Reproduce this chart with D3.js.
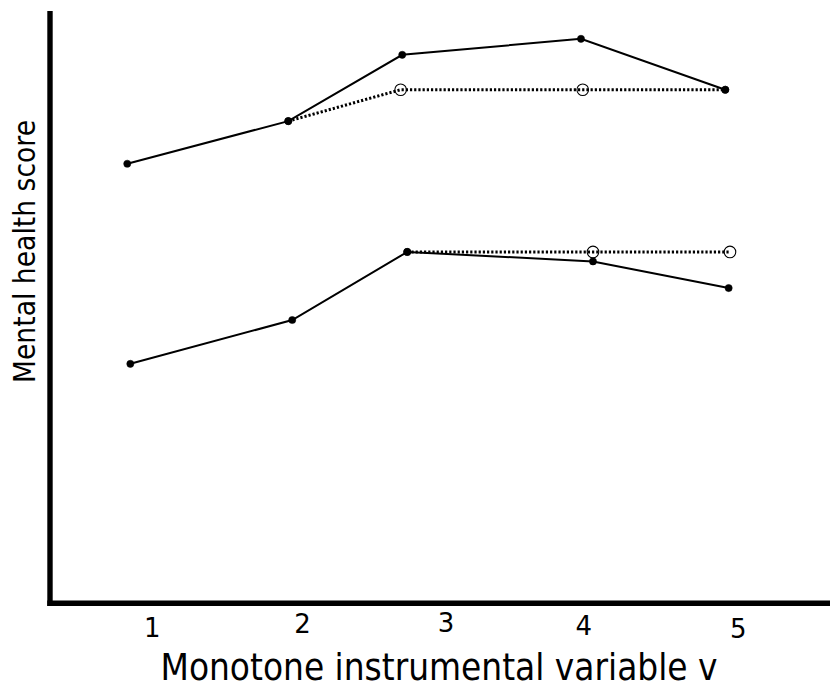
<!DOCTYPE html>
<html>
<head>
<meta charset="utf-8">
<script src="https://cdn.jsdelivr.net/npm/d3@7"></script>
<style>
  html, body { margin: 0; padding: 0; background: #fff; }
  svg { display: block; }
  text { font-family: "DejaVu Sans Condensed", "DejaVu Sans", sans-serif; fill: #000; }
</style>
</head>
<body>
<svg id="chart" width="830" height="688"></svg>
<script>
// ---------- data ----------
const tickValues = [1.005, 2.03, 3.01, 3.95, 5.005];
const tickLabels = ["1", "2", "3", "4", "5"];

// upper group, observed (solid)
const upperSolidX = [0.838, 1.937, 2.715, 3.935, 4.920];
const upperSolidY = [74.2, 81.4, 92.6, 95.3, 86.7];
// upper group, monotone fit (dotted)
const upperDotX = [1.937, 2.704, 3.947, 4.920];
const upperDotY = [81.4, 86.7, 86.7, 86.7];
const upperDotOpen = [false, true, true, false];

// lower group, observed (solid)
const lowerSolidX = [0.859, 1.964, 2.749, 4.017, 4.943];
const lowerSolidY = [40.4, 47.8, 59.3, 57.7, 53.2];
// lower group, monotone fit (dotted)
const lowerDotX = [2.749, 4.017, 4.952];
const lowerDotY = [59.3, 59.3, 59.3];
const lowerDotOpen = [false, true, true];

const xTitle = "Monotone instrumental variable v";
const yTitle = "Mental health score";

// ---------- layout ----------
const svg = d3.select("#chart");
const x = d3.scaleLinear().domain([1, 5]).range([151, 737]);
const y = d3.scaleLinear().domain([0, 100]).range([603, 11]);
const labelBaselines = [637, 633, 632, 635, 638];

// axes frame
svg.append("line").attr("x1", 50).attr("x2", 50).attr("y1", 11).attr("y2", 606)
  .attr("stroke", "#000").attr("stroke-width", 5.4);
svg.append("line").attr("x1", 47.3).attr("x2", 830).attr("y1", 603.3).attr("y2", 603.3)
  .attr("stroke", "#000").attr("stroke-width", 5.4);

// tick labels via axis
const xAxis = d3.axisBottom(x).tickValues(tickValues).tickSize(0)
  .tickFormat((d, i) => tickLabels[i]);
const gx = svg.append("g").call(xAxis);
gx.select(".domain").remove();
gx.attr("font-family", "DejaVu Sans, sans-serif").attr("font-size", 26);
gx.selectAll(".tick text")
  .attr("font-size", 26)
  .style("font-size", "26px")
  .style("font-family", "'DejaVu Sans', sans-serif")
  .attr("dy", null)
  .attr("y", (d, i) => labelBaselines[i]);

// titles
svg.append("text").attr("x", 439).attr("y", 679.5).attr("text-anchor", "middle")
  .style("font-size", "36.6px").text(xTitle);
svg.append("text").attr("transform", "translate(35,251.5) rotate(-90)")
  .attr("text-anchor", "middle").style("font-size", "29.6px").text(yTitle);

const line = d3.line().x(d => x(d[0])).y(d => y(d[1]));
const zip = (xs, ys) => xs.map((v, i) => [v, ys[i]]);

function drawSeries(xs, ys, dotted, openFlags) {
  const pts = zip(xs, ys);
  svg.append("path").datum(pts).attr("d", line)
    .attr("fill", "none").attr("stroke", "#000")
    .attr("stroke-width", dotted ? 3 : 2)
    .attr("stroke-dasharray", dotted ? "2.2,2" : null);
  svg.append("g").selectAll("circle").data(pts).join("circle")
    .attr("cx", d => x(d[0])).attr("cy", d => y(d[1]))
    .attr("r", (d, i) => openFlags && openFlags[i] ? 5.8 : 3.6)
    .attr("fill", (d, i) => openFlags && openFlags[i] ? "none" : "#000")
    .attr("stroke", "#000")
    .attr("stroke-width", (d, i) => openFlags && openFlags[i] ? 1.1 : 0.5);
}

drawSeries(upperDotX, upperDotY, true, upperDotOpen);
drawSeries(upperSolidX, upperSolidY, false, null);
drawSeries(lowerDotX, lowerDotY, true, lowerDotOpen);
drawSeries(lowerSolidX, lowerSolidY, false, null);
</script>
</body>
</html>
